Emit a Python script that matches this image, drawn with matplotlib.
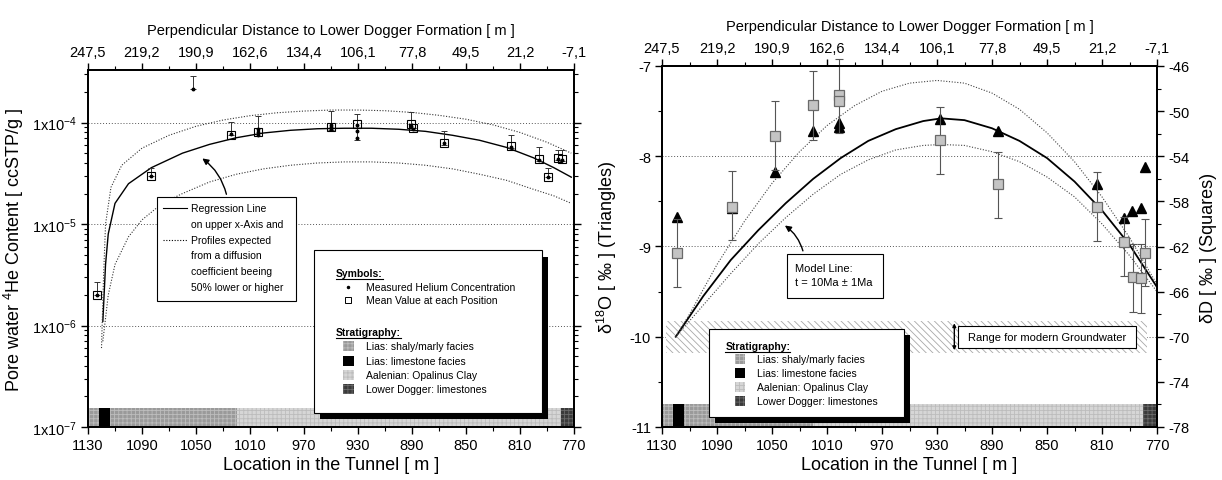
import matplotlib.pyplot as plt
from matplotlib.patches import Rectangle
from matplotlib.lines import Line2D

# Fonte parecida com Arial
plt.rcParams['font.family'] = ['Liberation Sans', 'DejaVu Sans']
plt.rcParams['mathtext.fontset'] = 'custom'
plt.rcParams['mathtext.rm'] = 'Liberation Sans'
plt.rcParams['mathtext.it'] = 'Liberation Sans:italic'
plt.rcParams['mathtext.bf'] = 'Liberation Sans:bold'
plt.rcParams['axes.unicode_minus'] = False
plt.rcParams['hatch.linewidth'] = 0.6

# Eixos x (tunel e distancia perpendicular)
tunnel_ticks = [1130, 1090, 1050, 1010, 970, 930, 890, 850, 810, 770]
tunnel_minor = [1110, 1070, 1030, 990, 950, 910, 870, 830, 790]
dist_labels = ['247,5', '219,2', '190,9', '162,6', '134,4', '106,1', '77,8', '49,5', '21,2', '-7,1']

# Eixo y do helio
he_ticks = [1e-7, 1e-6, 1e-5, 1e-4]
he_tick_labels = ['1x10$^{-7}$', '1x10$^{-6}$', '1x10$^{-5}$', '1x10$^{-4}$']

# Eixos y dos isotopos
d18o_ticks = [-11, -10, -9, -8, -7]
d18o_minor = [-10.5, -9.5, -8.5, -7.5]
dd_ticks = [-78, -74, -70, -66, -62, -58, -54, -50, -46]
dd_minor = [-76, -72, -68, -64, -60, -56, -52, -48]

# Estratigrafia ao longo do tunel
strat_start = [1130, 1122, 1114, 1020, 780]
strat_end = [1122, 1114, 1020, 780, 770]
strat_unit = ['shaly', 'limestone', 'shaly', 'opalinus', 'dogger']
strat_order = ['shaly', 'limestone', 'opalinus', 'dogger']
strat_names = ['Lias: shaly/marly facies', 'Lias: limestone facies',
               'Aalenian: Opalinus Clay', 'Lower Dogger: limestones']

# Helio: medicoes individuais
he_dot_pos = [1123, 1083, 1052, 1024, 1004, 1004, 1004, 950, 950, 950, 931, 931, 931,
              891, 889, 866, 817, 796, 789, 782, 779]
he_dot_val = [2.0e-6, 3.0e-5, 2.15e-4, 7.7e-5, 8.1e-5, 7.5e-5, 8.6e-5, 9.0e-5, 8.6e-5, 9.4e-5,
              9.4e-5, 8.3e-5, 7.0e-5, 9.3e-5, 8.6e-5, 6.3e-5, 5.8e-5, 4.3e-5, 2.9e-5, 4.4e-5, 4.3e-5]
he_out_pos = [1052]
he_out_val = [2.15e-4]
he_out_hi = [2.85e-4]

# Helio: media por posicao
he_pos = [1123, 1083, 1024, 1004, 950, 931, 891, 889, 866, 817, 796, 789, 782, 779]
he_mean = [2.0e-6, 3.0e-5, 7.6e-5, 8.1e-5, 9.1e-5, 9.6e-5, 9.7e-5, 8.8e-5, 6.3e-5, 5.9e-5,
           4.4e-5, 2.9e-5, 4.5e-5, 4.4e-5]
he_lo = [2.0e-6, 3.0e-5, 7.6e-5, 7.3e-5, 8.4e-5, 6.8e-5, 9.7e-5, 8.8e-5, 6.0e-5, 5.6e-5,
         4.2e-5, 2.9e-5, 4.3e-5, 4.2e-5]
he_hi = [2.7e-6, 3.6e-5, 1.02e-4, 1.16e-4, 1.30e-4, 1.21e-4, 1.28e-4, 8.8e-5, 8.3e-5, 7.6e-5,
         5.7e-5, 3.6e-5, 5.4e-5, 5.4e-5]

# Helio: linha de regressao e perfis (+/- 50%)
reg_pos = [1119, 1117, 1115, 1110, 1100, 1083, 1060, 1040, 1020, 1000, 980, 960, 940, 920,
           900, 880, 860, 840, 820, 800, 785, 772]
reg_val = [1.1e-6, 4e-6, 8e-6, 1.6e-5, 2.5e-5, 3.6e-5, 5.0e-5, 6.1e-5, 7.1e-5, 7.9e-5, 8.4e-5,
           8.7e-5, 8.8e-5, 8.8e-5, 8.6e-5, 8.2e-5, 7.5e-5, 6.7e-5, 5.7e-5, 4.5e-5, 3.6e-5, 2.9e-5]
up_pos = [1120, 1118.5, 1117, 1113, 1105, 1090, 1070, 1050, 1030, 1010, 990, 970, 950, 930,
          910, 890, 870, 850, 830, 810, 790, 772]
up_val = [6e-7, 3e-6, 1e-5, 2.3e-5, 3.8e-5, 5.6e-5, 7.5e-5, 9.2e-5, 1.06e-4, 1.17e-4, 1.25e-4,
          1.30e-4, 1.33e-4, 1.33e-4, 1.31e-4, 1.26e-4, 1.18e-4, 1.08e-4, 9.5e-5, 8.0e-5, 6.4e-5, 5.0e-5]
low_pos = [1119, 1115, 1110, 1100, 1090, 1075, 1060, 1040, 1020, 1000, 980, 960, 940, 920,
           900, 880, 860, 840, 820, 800, 785, 772]
low_val = [7e-7, 2e-6, 4e-6, 7.5e-6, 1.1e-5, 1.6e-5, 2.0e-5, 2.6e-5, 3.1e-5, 3.5e-5, 3.8e-5,
           4.0e-5, 4.1e-5, 4.1e-5, 4.0e-5, 3.8e-5, 3.5e-5, 3.1e-5, 2.7e-5, 2.2e-5, 1.9e-5, 1.6e-5]

# Isotopos: delta 18O (triangulos)
tri_pos = [1119, 1079, 1048, 1020, 1001, 1001, 927.5, 886, 814, 794, 788, 782, 779]
tri_val = [-8.67, -8.57, -8.18, -7.72, -7.63, -7.68, -7.59, -7.72, -8.31, -8.68, -8.61, -8.57, -8.12]

# Isotopos: delta D (quadrados)
sq_pos = [1119, 1079, 1048, 1020, 1001, 1001, 927.5, 886, 814, 794, 787.5, 782, 779]
sq_val = [-62.6, -58.5, -52.2, -49.5, -48.6, -49.1, -52.6, -56.5, -58.5, -61.6, -64.7, -64.8, -62.6]
sq_lo = [-65.6, -61.4, -55.2, -52.6, -51.9, -49.1, -55.6, -59.5, -61.5, -64.6, -67.8, -67.9, -65.5]
sq_hi = [-59.6, -55.3, -49.1, -46.4, -45.4, -49.1, -49.6, -53.6, -55.4, -59.4, -61.8, -61.8, -59.6]

# Modelo de difusao (t = 10 Ma +/- 1 Ma)
mod_pos = [1120, 1100, 1080, 1060, 1040, 1020, 1000, 980, 960, 940, 927, 910, 890, 870, 850,
           830, 810, 790, 770]
mod_val = [-10.0, -9.55, -9.15, -8.82, -8.52, -8.25, -8.02, -7.83, -7.70, -7.61, -7.58, -7.60,
           -7.69, -7.83, -8.02, -8.28, -8.60, -8.98, -9.45]
mod_up_pos = [1120, 1110, 1090, 1070, 1050, 1030, 1010, 990, 970, 950, 930, 910, 890, 870, 850,
              830, 810, 790, 770]
mod_up_val = [-10.0, -9.75, -9.2, -8.72, -8.3, -7.95, -7.66, -7.44, -7.28, -7.19, -7.16, -7.19,
              -7.3, -7.48, -7.74, -8.06, -8.45, -8.9, -9.42]
mod_low_pos = [1120, 1100, 1080, 1060, 1040, 1020, 1000, 980, 960, 940, 927, 910, 890, 870, 850,
               830, 810, 790, 770]
mod_low_val = [-10.0, -9.65, -9.3, -8.97, -8.68, -8.42, -8.2, -8.04, -7.93, -7.88, -7.87, -7.88,
               -7.95, -8.06, -8.23, -8.45, -8.75, -9.1, -9.5]

# Estilos das camadas (cor, hachura, cor da hachura)
strat_style = {
    'shaly': ('#9a9a9a', '++++', '#bdbdbd'),
    'limestone': ('black', None, 'black'),
    'opalinus': ('#d6d6d6', '++++', '#bcbcbc'),
    'dogger': ('#3a3a3a', '++++', '#6a6a6a'),
}

fig = plt.figure(figsize=(12.22, 4.81), dpi=100)
W, H = 1222, 481
ax1 = fig.add_axes([88 / W, (H - 428) / H, (574 - 88) / W, (428 - 71) / H])
ax2 = fig.add_axes([662 / W, (H - 428) / H, (1157 - 662) / W, (428 - 67) / H])

tick_fs = 10.5
label_fs = 13
box_fs = 7.5


def style_ticks(ax):
    ax.tick_params(which='major', direction='out', length=5, width=1.0, labelsize=tick_fs, pad=3)
    ax.tick_params(which='minor', direction='out', length=3, width=0.8)
    for sp in ax.spines.values():
        sp.set_linewidth(1.3)


def underline(ax, txt, lw=0.8):
    fig.canvas.draw()
    bb = txt.get_window_extent()
    inv = txt.get_transform().inverted()
    p0, p1 = inv.transform([[bb.x0, bb.y0 - 1], [bb.x1, bb.y0 - 1]])
    ax.add_line(Line2D([p0[0], p1[0]], [p0[1], p1[1]], transform=txt.get_transform(),
                       color='black', lw=lw, zorder=txt.get_zorder()))


# ---------------- Painel esquerdo: helio ----------------
ax1.set_yscale('log')
ax1.set_xlim(1130, 770)
ax1.set_ylim(1e-7, 3.3e-4)

for y in he_ticks[1:]:
    ax1.axhline(y, color='#555555', lw=0.7, ls=(0, (1, 2)), zorder=1)

for s, e, u in zip(strat_start, strat_end, strat_unit):
    fc, ht, ec = strat_style[u]
    ax1.fill_between([s, e], 1e-7, 1.55e-7, facecolor=fc, hatch=ht, edgecolor=ec, linewidth=0, zorder=1)

ax1.plot(reg_pos, reg_val, color='black', lw=1.0, zorder=3)
ax1.plot(up_pos, up_val, color='#333333', lw=0.8, ls=(0, (1, 1.5)), zorder=3)
ax1.plot(low_pos, low_val, color='#333333', lw=0.8, ls=(0, (1, 1.5)), zorder=3)

ax1.errorbar(he_pos, he_mean,
             yerr=[[m - l for m, l in zip(he_mean, he_lo)], [h - m for m, h in zip(he_mean, he_hi)]],
             fmt='none', ecolor='#333333', elinewidth=0.7, capsize=2.5, capthick=0.7, zorder=4)
ax1.errorbar(he_out_pos, he_out_val, yerr=[[0], [h - v for v, h in zip(he_out_val, he_out_hi)]],
             fmt='none', ecolor='#333333', elinewidth=0.7, capsize=2.5, capthick=0.7, zorder=4)
ax1.plot(he_pos, he_mean, ls='none', marker='s', ms=5.5, mfc='none', mec='black', mew=0.8, zorder=5)
ax1.plot(he_dot_pos, he_dot_val, ls='none', marker='o', ms=1.8, color='black', zorder=5)

ax1.set_xticks(tunnel_ticks)
ax1.set_xticks(tunnel_minor, minor=True)
ax1.set_yticks(he_ticks)
ax1.set_yticklabels(he_tick_labels)
ax1.tick_params(which='both', right=True)
style_ticks(ax1)
ax1.set_xlabel('Location in the Tunnel [ m ]', fontsize=label_fs, labelpad=3)
ax1.set_ylabel('Pore water $^{4}$He Content [ ccSTP/g ]', fontsize=label_fs, labelpad=4)

ax1t = ax1.twiny()
ax1t.set_xlim(ax1.get_xlim())
ax1t.set_xticks(tunnel_ticks)
ax1t.set_xticklabels(dist_labels)
ax1t.set_xticks(tunnel_minor, minor=True)
style_ticks(ax1t)
ax1t.set_xlabel('Perpendicular Distance to Lower Dogger Formation [ m ]', fontsize=10.5, labelpad=8)

# Caixa da regressao
ax1.add_patch(Rectangle((0.143, 0.353), 0.285, 0.292, transform=ax1.transAxes,
                        facecolor='white', edgecolor='black', lw=0.8, zorder=6))
reg_lines = ['Regression Line', 'on upper x-Axis and', 'Profiles expected', 'from a diffusion',
             'coefficient beeing', '50% lower or higher']
for i, t in enumerate(reg_lines):
    ax1.text(0.212, 0.613 - i * 0.044, t, transform=ax1.transAxes, fontsize=box_fs,
             va='center', zorder=7)
ax1.add_line(Line2D([0.155, 0.204], [0.613, 0.613], transform=ax1.transAxes, color='black',
                    lw=0.8, zorder=7))
ax1.add_line(Line2D([0.155, 0.204], [0.525, 0.525], transform=ax1.transAxes, color='black',
                    lw=0.8, ls=(0, (1, 1.5)), zorder=7))
ax1.annotate('', xy=(1047, 4.6e-5), xytext=(1027, 1.85e-5),
             arrowprops=dict(arrowstyle='-|>', connectionstyle='arc3,rad=0.2', color='black',
                             lw=1.0, mutation_scale=9), zorder=7)

# Caixa de simbolos e estratigrafia (com sombra)
ax1.add_patch(Rectangle((0.478, 0.022), 0.469, 0.455, transform=ax1.transAxes,
                        facecolor='black', edgecolor='black', lw=0, zorder=6))
ax1.add_patch(Rectangle((0.466, 0.04), 0.469, 0.455, transform=ax1.transAxes,
                        facecolor='white', edgecolor='black', lw=0.8, zorder=6))
t_sym = ax1.text(0.51, 0.432, 'Symbols:', transform=ax1.transAxes, fontsize=box_fs,
                 fontweight='bold', va='center', zorder=7)
ax1.plot([0.536], [0.393], transform=ax1.transAxes, marker='o', ms=1.5, color='black', zorder=7)
ax1.text(0.573, 0.393, 'Measured Helium Concentration', transform=ax1.transAxes, fontsize=box_fs,
         va='center', zorder=7)
ax1.plot([0.536], [0.355], transform=ax1.transAxes, marker='s', ms=4.5, mfc='none', mec='black',
         mew=0.7, zorder=7)
ax1.text(0.573, 0.355, 'Mean Value at each Position', transform=ax1.transAxes, fontsize=box_fs,
         va='center', zorder=7)
t_str1 = ax1.text(0.51, 0.265, 'Stratigraphy:', transform=ax1.transAxes, fontsize=box_fs,
                  fontweight='bold', va='center', zorder=7)
for i, (u, name) in enumerate(zip(strat_order, strat_names)):
    yc = 0.226 - i * 0.04
    fc, ht, ec = strat_style[u]
    ax1.add_patch(Rectangle((0.525, yc - 0.014), 0.022, 0.028, transform=ax1.transAxes,
                            facecolor=fc, hatch=ht, edgecolor=ec, lw=0, zorder=7))
    ax1.text(0.573, yc, name, transform=ax1.transAxes, fontsize=box_fs, va='center', zorder=7)

# ---------------- Painel direito: isotopos ----------------
ax2.set_xlim(1130, 770)
ax2.set_ylim(-11, -7)

for y in [-10, -9, -8]:
    ax2.axhline(y, color='#555555', lw=0.7, ls=(0, (1, 2)), zorder=1)

for s, e, u in zip(strat_start, strat_end, strat_unit):
    fc, ht, ec = strat_style[u]
    ax2.fill_between([s, e], -11, -10.75, facecolor=fc, hatch=ht, edgecolor=ec, linewidth=0, zorder=1)

# Faixa da agua subterranea moderna
ax2.fill_between([1127, 777], -10.18, -9.82, facecolor='white', edgecolor='#a8a8a8',
                 hatch='\\\\\\\\\\', linewidth=0, zorder=1.5)

ax2.plot(mod_pos, mod_val, color='black', lw=1.3, zorder=3)
ax2.plot(mod_up_pos, mod_up_val, color='#444444', lw=0.8, ls=(0, (1, 1.5)), zorder=3)
ax2.plot(mod_low_pos, mod_low_val, color='#444444', lw=0.8, ls=(0, (1, 1.5)), zorder=3)
ax2.plot(tri_pos, tri_val, ls='none', marker='^', ms=7, color='black', zorder=4)

ax2.set_xticks(tunnel_ticks)
ax2.set_xticks(tunnel_minor, minor=True)
ax2.set_yticks(d18o_ticks)
ax2.set_yticks(d18o_minor, minor=True)
style_ticks(ax2)
ax2.set_xlabel('Location in the Tunnel [ m ]', fontsize=label_fs, labelpad=3)
ax2.set_ylabel('δ$^{18}$O [ ‰ ] (Triangles)', fontsize=label_fs, labelpad=8)

ax2r = ax2.twinx()
ax2r.set_ylim(-78, -46)
ax2r.errorbar(sq_pos, sq_val,
              yerr=[[v - l for v, l in zip(sq_val, sq_lo)], [h - v for v, h in zip(sq_val, sq_hi)]],
              fmt='none', ecolor='#555555', elinewidth=0.8, capsize=3, capthick=0.8, zorder=4,
              clip_on=False)
ax2r.plot(sq_pos, sq_val, ls='none', marker='s', ms=6.5, mfc='#c4c4c4', mec='#6a6a6a', mew=0.9,
          zorder=5)
ax2r.set_yticks(dd_ticks)
ax2r.set_yticks(dd_minor, minor=True)
style_ticks(ax2r)
ax2r.set_ylabel('δD [ ‰ ] (Squares)', fontsize=label_fs, labelpad=8)

ax2t = ax2.twiny()
ax2t.set_xlim(ax2.get_xlim())
ax2t.set_xticks(tunnel_ticks)
ax2t.set_xticklabels(dist_labels)
ax2t.set_xticks(tunnel_minor, minor=True)
style_ticks(ax2t)
ax2t.set_xlabel('Perpendicular Distance to Lower Dogger Formation [ m ]', fontsize=10.5, labelpad=8)

# Caixa do modelo
ax2.add_patch(Rectangle((969.1, -9.567), 69.8, 0.489, facecolor='white', edgecolor='black',
                        lw=0.8, zorder=6))
ax2.text(1033, -9.32, 'Model Line:\nt = 10Ma ± 1Ma', fontsize=8, va='center', ha='left',
         linespacing=1.5, zorder=7)
ax2.annotate('', xy=(1042.3, -8.75), xytext=(1027, -9.078),
             arrowprops=dict(arrowstyle='-|>', connectionstyle='arc3,rad=0.2', color='black',
                             lw=1.0, mutation_scale=9), zorder=7)

# Caixa da agua subterranea
ax2.add_patch(Rectangle((785.6, -10.12), 129, 0.24, facecolor='white', edgecolor='black',
                        lw=0.8, zorder=6))
ax2.text(850, -10.0, 'Range for modern Groundwater', fontsize=8, ha='center', va='center', zorder=7)
ax2.annotate('', xy=(917.4, -9.82), xytext=(917.4, -10.18),
             arrowprops=dict(arrowstyle='<|-|>', color='black', lw=1.0, mutation_scale=5), zorder=7)

# Caixa da estratigrafia (com sombra)
ax2.add_patch(Rectangle((949.3, -10.955), 142.3, 0.975, facecolor='black', lw=0, zorder=6))
ax2.add_patch(Rectangle((953.7, -10.89), 142.3, 0.975, facecolor='white', edgecolor='black',
                        lw=0.8, zorder=6))
t_str2 = ax2.text(1084, -10.10, 'Stratigraphy:', fontsize=box_fs, fontweight='bold',
                  va='center', zorder=7)
for i, (u, name) in enumerate(zip(strat_order, strat_names)):
    yc = -10.25 - i * 0.153
    fc, ht, ec = strat_style[u]
    ax2.add_patch(Rectangle((1069.5, yc - 0.055), 7.3, 0.11, facecolor=fc, hatch=ht,
                            edgecolor=ec, lw=0, zorder=7))
    ax2.text(1061, yc, name, fontsize=box_fs, va='center', zorder=7)

for ax, t in [(ax1, t_sym), (ax1, t_str1), (ax2, t_str2)]:
    underline(ax, t)

fig.savefig('out.png', dpi=100)
plt.close(fig)
